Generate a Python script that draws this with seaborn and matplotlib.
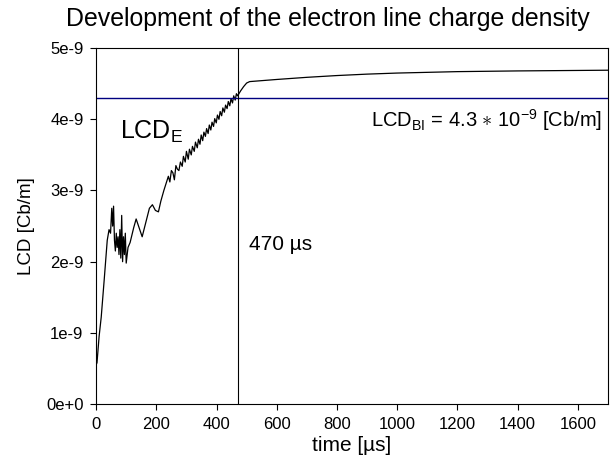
import pandas as pd
import matplotlib
matplotlib.use('Agg')
import matplotlib.pyplot as plt
import seaborn as sns

# electron line charge density (time in µs, LCD in 1e-9 Cb/m)
time_us = [0, 3, 10, 17, 27, 37, 43, 48, 52, 55, 58, 61, 64, 67, 70, 73, 76, 79, 82,
           85, 88, 91, 94, 97, 100, 106, 113, 125, 133, 145, 153, 165, 177, 187, 197,
           207, 215, 225, 240, 245, 250, 255, 260, 265, 270, 275, 280, 286, 290, 296,
           300, 306, 310, 316, 320, 326, 330, 336, 340, 345, 349, 354, 358, 363, 367,
           372, 376, 381, 385, 390, 394, 399, 403, 408, 412, 417, 421, 426, 430, 435,
           439, 444, 448, 453, 457, 462, 466, 470, 480, 490, 500, 510, 600, 700, 800,
           900, 1000, 1200, 1400, 1700]
lcd_e = [0.55, 0.58, 0.95, 1.22, 1.75, 2.30, 2.45, 2.40, 2.75, 2.50, 2.78, 2.30, 2.15,
         2.40, 2.20, 2.35, 2.10, 2.45, 2.05, 2.65, 2.00, 2.35, 2.10, 2.40, 1.98, 2.20,
         2.27, 2.48, 2.60, 2.45, 2.35, 2.55, 2.75, 2.80, 2.72, 2.70, 2.85, 3.00, 3.20,
         3.12, 3.28, 3.25, 3.15, 3.35, 3.30, 3.28, 3.40, 3.34, 3.48, 3.40, 3.55, 3.44,
         3.58, 3.50, 3.62, 3.55, 3.68, 3.60, 3.72, 3.65, 3.78, 3.70, 3.82, 3.76, 3.87,
         3.80, 3.92, 3.85, 3.96, 3.90, 4.01, 3.95, 4.06, 4.00, 4.11, 4.05, 4.16, 4.10,
         4.20, 4.15, 4.25, 4.19, 4.29, 4.23, 4.33, 4.27, 4.36, 4.33, 4.40, 4.46, 4.51,
         4.53, 4.56, 4.59, 4.615, 4.635, 4.65, 4.67, 4.68, 4.69]

lcd_bi = 4.3e-9
t_cross = 470

y_ticks = [0, 1e-9, 2e-9, 3e-9, 4e-9, 5e-9]
y_labels = ['0e+0', '1e-9', '2e-9', '3e-9', '4e-9', '5e-9']
x_ticks = [0, 200, 400, 600, 800, 1000, 1200, 1400, 1600]

df = pd.DataFrame({'time': time_us, 'lcd': [v * 1e-9 for v in lcd_e]})

sns.set_style('ticks')
plt.rcParams['font.family'] = ['Liberation Sans', 'DejaVu Sans']
plt.rcParams['mathtext.fontset'] = 'custom'
plt.rcParams['mathtext.rm'] = 'Liberation Sans'
plt.rcParams['mathtext.it'] = 'Liberation Sans'
plt.rcParams['text.color'] = 'black'
plt.rcParams['axes.labelcolor'] = 'black'

fig = plt.figure(figsize=(6.16, 4.72), dpi=100)
ax = fig.add_axes([0.156, 0.144, 0.831, 0.754])

sns.lineplot(data=df, x='time', y='lcd', ax=ax, color='black', linewidth=0.9)
ax.axhline(lcd_bi, color='#000080', linewidth=1.0)
ax.axvline(t_cross, color='black', linewidth=0.8)

ax.set_xlim(0, 1700)
ax.set_ylim(0, 5e-9)
ax.set_xticks(x_ticks)
ax.set_yticks(y_ticks)
ax.set_yticklabels(y_labels)
ax.tick_params(labelsize=12, length=4, width=0.8, direction='out',
               colors='black', pad=5)
for s in ax.spines.values():
    s.set_linewidth(0.8)
    s.set_color('black')

ax.set_xlabel('time [µs]', fontsize=15, labelpad=3)
ax.set_ylabel('LCD [Cb/m]', fontsize=13.5, labelpad=8)
# title sits a bit left of the axes centre in the original
fig.text(0.532, 1 - 26 / 472, 'Development of the electron line charge density',
         fontsize=17.9, ha='center', va='baseline')

ax.text(80, 3.72e-9, r'LCD$_{\mathrm{E}}$', fontsize=18)
ax.text(1680, 3.89e-9, r'LCD$_{\mathrm{BI}}$ = 4.3 $\ast$ 10$^{\mathrm{-9}}$ [Cb/m]',
        fontsize=14.5, ha='right')
ax.text(507, 2.17e-9, '470 µs', fontsize=15)

plt.savefig('out.png', dpi=100)
